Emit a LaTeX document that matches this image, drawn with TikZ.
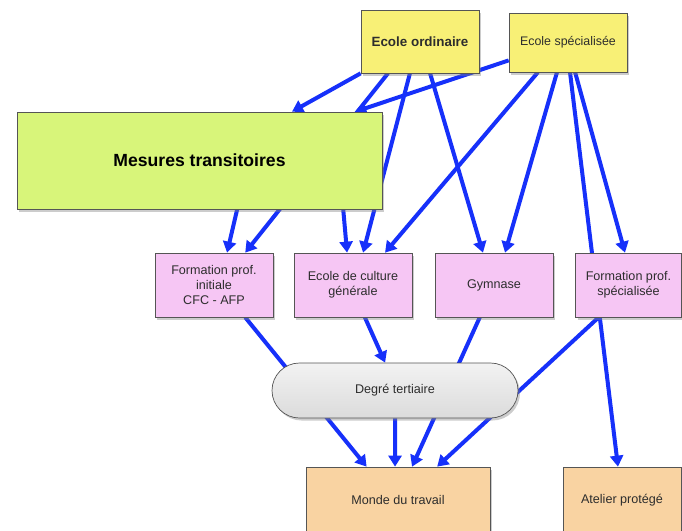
\documentclass[tikz,border=0pt]{standalone}
\usepackage{fontspec}
\setmainfont{Liberation Sans}
\usetikzlibrary{arrows.meta,calc,shadows}
\definecolor{arrowblue}{RGB}{22,48,250}
\definecolor{boxline}{RGB}{85,85,85}
\definecolor{textgrey}{RGB}{45,45,45}
\definecolor{yellowc}{RGB}{248,240,118}
\definecolor{greenc}{RGB}{216,245,122}
\definecolor{pinkc}{RGB}{246,198,244}
\definecolor{peachc}{RGB}{249,211,162}
\pgfdeclarelayer{bg}
\pgfsetlayers{bg,main}
\begin{document}
\begin{tikzpicture}[x=1pt,y=-1pt,
  box/.style={draw=boxline, line width=0.7pt, rectangle, inner sep=0pt, align=center,
    font=\fontsize{12.6}{15}\selectfont, text=textgrey,
    drop shadow={shadow xshift=2pt,shadow yshift=-2.5pt,opacity=0.4}},
  link/.style={draw=arrowblue, line width=4pt, -{Triangle[length=11pt,width=13pt]}}]
\useasboundingbox (0,0) rectangle (682,530);

% nodes
\node[box, fill=yellowc, minimum width=118pt, minimum height=63pt,
      font=\bfseries\fontsize{13.4}{16}\selectfont] (eo) at (420,41.5) {Ecole ordinaire};
\node[box, fill=yellowc, minimum width=118pt, minimum height=59pt,
      font=\fontsize{12.4}{15}\selectfont] (es) at (568,42.5) {Ecole spécialisée};
\node[box, fill=greenc, minimum width=365pt, minimum height=97pt, text=black,
      font=\bfseries\fontsize{17.6}{20}\selectfont] (mt) at (199.5,160.5) {Mesures transitoires};
\node[box, fill=pinkc, minimum width=118pt, minimum height=64pt] (fpi) at (214,285)
      {Formation prof.\\initiale\\CFC - AFP};
\node[box, fill=pinkc, minimum width=118pt, minimum height=64pt] (ecg) at (353,285)
      {Ecole de culture\\générale};
\node[box, fill=pinkc, minimum width=118pt, minimum height=64pt] (gym) at (494,285)
      {Gymnase};
\node[box, fill=pinkc, minimum width=106pt, minimum height=64pt] (fps) at (628.5,285)
      {Formation prof.\\spécialisée};
\node[box, top color=gray!10, bottom color=gray!28, rounded corners=27.5pt,
      minimum width=246pt, minimum height=55pt] (dt) at (395,390.5) {Degré tertiaire};
\node[box, fill=peachc, minimum width=184pt, minimum height=66pt] (mdt) at (398,500)
      {Monde du travail};
\node[box, fill=peachc, minimum width=118pt, minimum height=66pt] (ap) at (622,500)
      {Atelier protégé};

% connectors (behind the boxes)
\begin{pgfonlayer}{bg}
\fill[white] (0,0) rectangle (682,530);
\draw[link] ($(eo.south west)!0.0!(eo.south east)$) -- ($(mt.north west)!0.753!(mt.north east)$);
\draw[link] ($(eo.south west)!0.23!(eo.south east)$) -- ($(fpi.north west)!0.763!(fpi.north east)$);
\draw[link] ($(es.north west)!0.8!(es.south west)$) -- ($(mt.north west)!0.926!(mt.north east)$);
\draw[link] ($(eo.south west)!0.415!(eo.south east)$) -- ($(ecg.north west)!0.585!(ecg.north east)$);
\draw[link] ($(eo.south west)!0.585!(eo.south east)$) -- ($(gym.north west)!0.407!(gym.north east)$);
\draw[link] ($(es.south west)!0.246!(es.south east)$) -- ($(ecg.north west)!0.77!(ecg.north east)$);
\draw[link] ($(es.south west)!0.407!(es.south east)$) -- ($(gym.north west)!0.593!(gym.north east)$);
\draw[link] ($(es.south west)!0.517!(es.south east)$) -- ($(ap.north west)!0.466!(ap.north east)$);
\draw[link] ($(es.south west)!0.56!(es.south east)$) -- ($(fps.north west)!0.467!(fps.north east)$);
\draw[link] ($(mt.south west)!0.603!(mt.south east)$) -- ($(fpi.north west)!0.61!(fpi.north east)$);
\draw[link] ($(mt.south west)!0.893!(mt.south east)$) -- ($(ecg.north west)!0.45!(ecg.north east)$);
\draw[link] ($(fpi.south west)!0.763!(fpi.south east)$) -- ($(mdt.north west)!0.33!(mdt.north east)$);
\draw[link] ($(ecg.south west)!0.6!(ecg.south east)$) -- ($(dt.north west)!0.46!(dt.north east)$);
\draw[link] ($(gym.south west)!0.38!(gym.south east)$) -- ($(mdt.north west)!0.576!(mdt.north east)$);
\draw[link] ($(fps.south west)!0.22!(fps.south east)$) -- ($(mdt.north west)!0.712!(mdt.north east)$);
\draw[link] (dt.south) -- ($(mdt.north west)!0.484!(mdt.north east)$);
\end{pgfonlayer}
\end{tikzpicture}
\end{document}
